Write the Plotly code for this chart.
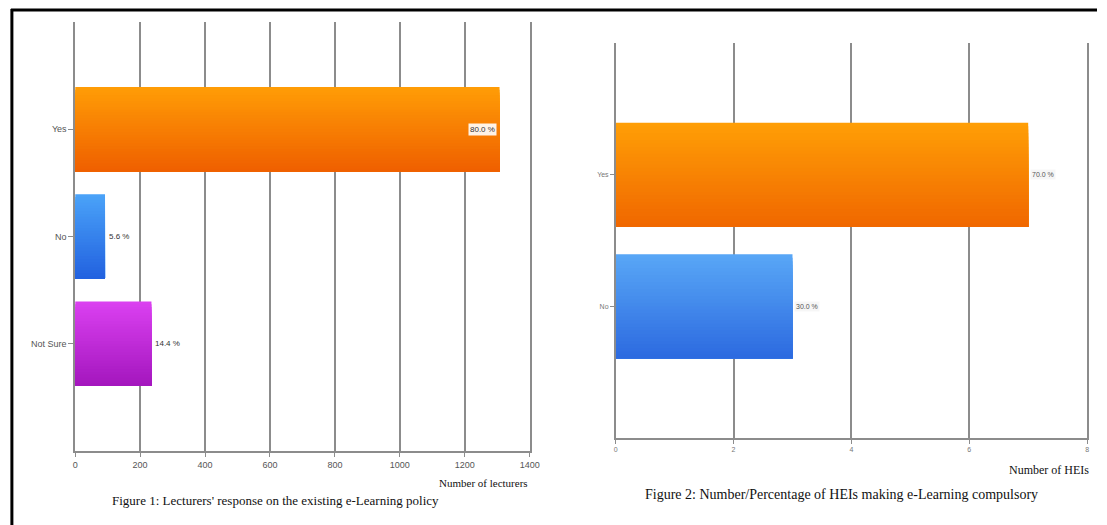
import plotly.graph_objects as go

# ---- data ----
categories1 = ["Yes", "No", "Not Sure"]
lecturers = [1307, 92, 235]
pct1 = ["80.0 %", "5.6 %", "14.4 %"]
xticks1 = [0, 200, 400, 600, 800, 1000, 1200, 1400]

categories2 = ["Yes", "No"]
heis = [7, 3]
pct2 = ["70.0 %", "30.0 %"]
xticks2 = [0, 2, 4, 6, 8]

# bar colour gradients (top colour, bottom colour)
grad1 = [("#ff9c06", "#ef6000"), ("#4aa2f8", "#2262e0"), ("#da40f0", "#a417be")]
grad2 = [("#ff9e06", "#f06800"), ("#58a6f6", "#2d6be0")]

W, H = 1107, 525


def fx(px):
    return px / W


def fy(py):
    return 1 - py / H


def hex2rgb(h):
    h = h.lstrip("#")
    return tuple(int(h[i:i + 2], 16) for i in (0, 2, 4))


def mix(c1, c2, t):
    a, b = hex2rgb(c1), hex2rgb(c2)
    return "rgb(%d,%d,%d)" % tuple(round(a[i] + (b[i] - a[i]) * t) for i in range(3))


fig = go.Figure()

BARW = 0.79
N = 30


def add_gradient_bars(values, cats, grads, xa, ya):
    # each layer starts a little lower and runs to the bar bottom, so layers overlap without seams
    step = BARW / N
    for k in range(N):
        t = k / (N - 1)
        fig.add_trace(go.Bar(
            x=values, y=cats, orientation="h",
            marker=dict(color=[mix(a, b, t) for a, b in grads], line=dict(width=0)),
            offset=-BARW / 2 + k * step, width=BARW - k * step,
            xaxis=xa, yaxis=ya, showlegend=False, hoverinfo="skip",
        ))


add_gradient_bars(lecturers, categories1, grad1, "x", "y")
add_gradient_bars(heis, categories2, grad2, "x2", "y2")

grid = "#8c8c8c"
tickfont1 = dict(family="Liberation Sans, Arial", size=9, color="#555")
tickfont2 = dict(family="Liberation Sans, Arial", size=7, color="#777")

fig.update_layout(
    width=W, height=H,
    margin=dict(l=0, r=0, t=0, b=0),
    paper_bgcolor="white", plot_bgcolor="white",
    barmode="overlay",
    xaxis=dict(
        domain=[fx(73), fx(533)], range=[0, 1400], tickvals=xticks1,
        showgrid=True, gridcolor=grid, gridwidth=1.5,
        showline=True, linecolor=grid, linewidth=1.5,
        ticks="outside", ticklen=4, tickcolor=grid,
        tickfont=tickfont1, zeroline=False, anchor="y",
    ),
    yaxis=dict(
        domain=[fy(451), fy(22)], range=[3, -1], type="category",
        categoryorder="array", categoryarray=categories1,
        showgrid=False, showline=True, linecolor=grid, linewidth=1.5, mirror=True,
        ticks="outside", ticklen=5, tickcolor=grid,
        tickfont=tickfont1, anchor="x",
    ),
    xaxis2=dict(
        domain=[fx(620), fx(1097)], range=[0, 8], tickvals=xticks2,
        showgrid=True, gridcolor=grid, gridwidth=1.5,
        showline=True, linecolor=grid, linewidth=1.5,
        ticks="outside", ticklen=4, tickcolor=grid,
        tickfont=tickfont2, zeroline=False, anchor="y2",
    ),
    yaxis2=dict(
        domain=[fy(438), fy(43)], range=[2, -1], type="category",
        categoryorder="array", categoryarray=categories2,
        showgrid=False, showline=True, linecolor=grid, linewidth=1.5, mirror=True,
        ticks="outside", ticklen=4, tickcolor=grid,
        tickfont=tickfont2, anchor="x2",
    ),
)

annotations = []
# value labels, built from the data
for cat, val, lab in zip(categories1, lecturers, pct1):
    inside = val / 1400 > 0.85
    annotations.append(dict(
        x=val, y=cat, xref="x", yref="y", text=lab, showarrow=False,
        xanchor="right" if inside else "left", xshift=-3 if inside else 2,
        font=dict(family="Liberation Sans, Arial", size=8, color="#333"),
        bgcolor="rgba(255,255,255,0.9)", borderpad=1,
    ))
for cat, val, lab in zip(categories2, heis, pct2):
    annotations.append(dict(
        x=val, y=cat, xref="x2", yref="y2", text=lab, showarrow=False,
        xanchor="left", xshift=2,
        font=dict(family="Liberation Sans, Arial", size=7, color="#555"),
        bgcolor="rgba(245,245,245,0.9)", borderpad=1,
    ))

serif = "Liberation Serif, Times New Roman, serif"
annotations += [
    dict(x=fx(533), y=fy(483), xref="paper", yref="paper", xanchor="right", yanchor="middle",
         text="Number of lecturers", showarrow=False, font=dict(family=serif, size=11, color="#111")),
    dict(x=fx(108), y=fy(500), xref="paper", yref="paper", xanchor="left", yanchor="middle",
         text="Figure 1: Lecturers' response on the existing e-Learning policy", showarrow=False,
         font=dict(family=serif, size=13, color="#111")),
    dict(x=fx(1101), y=fy(470), xref="paper", yref="paper", xanchor="right", yanchor="middle",
         text="Number of HEIs", showarrow=False, font=dict(family=serif, size=12, color="#111")),
    dict(x=fx(648), y=fy(494), xref="paper", yref="paper", xanchor="left", yanchor="middle",
         text="Figure 2: Number/Percentage of HEIs making e-Learning compulsory", showarrow=False,
         font=dict(family=serif, size=14, color="#111")),
]
fig.update_layout(annotations=annotations)

# page frame (left and top border)
fig.update_layout(shapes=[
    dict(type="line", xref="paper", yref="paper", x0=fx(9), x1=fx(9), y0=fy(9), y1=0,
         line=dict(color="black", width=3)),
    dict(type="line", xref="paper", yref="paper", x0=fx(8), x1=1, y0=fy(10), y1=fy(10),
         line=dict(color="black", width=3)),
])

fig.write_html("out.html")
